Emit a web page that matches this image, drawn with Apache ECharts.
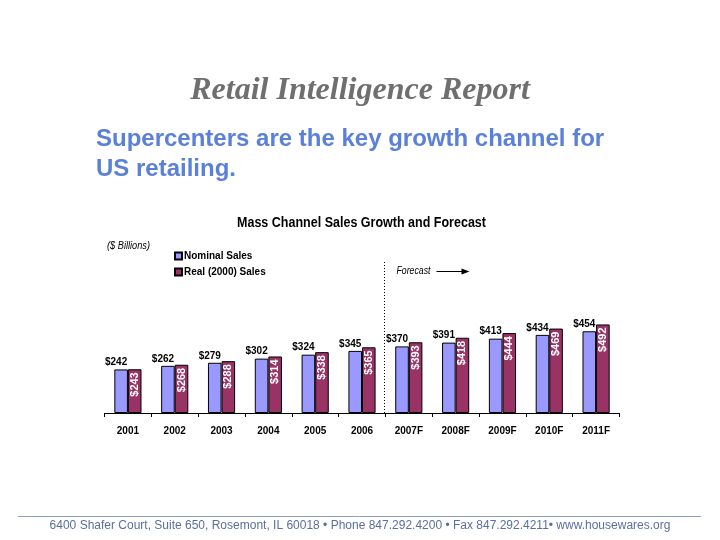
<!DOCTYPE html>
<html>
<head>
<meta charset="utf-8">
<script src="https://cdn.jsdelivr.net/npm/echarts@6/dist/echarts.min.js"></script>
<style>
html,body{margin:0;padding:0;background:#fff;}
#main{width:720px;height:540px;}
</style>
</head>
<body>
<div id="main"></div>
<script>
var categories = ['2001','2002','2003','2004','2005','2006','2007F','2008F','2009F','2010F','2011F'];
var nominalSales = [242,262,279,302,324,345,370,391,413,434,454];
var realSales = [243,268,288,314,338,365,393,418,444,469,492];
var forecastStartIndex = 6;

var SANS = '"Liberation Sans", Arial, sans-serif';

function measure(text, font) {
  var c = document.createElement('canvas').getContext('2d');
  c.font = font;
  return c.measureText(text).width;
}
// narrow text: horizontally squeezed text element
function narrowText(text, x, y, size, weight, style, targetW, align) {
  var w = measure(text, style + ' ' + weight + ' ' + size + 'px ' + SANS);
  var sx = targetW / w;
  return {type: 'text', x: x, y: y, scaleX: sx, scaleY: 1,
    style: {text: text, fontFamily: SANS, fontWeight: weight, fontStyle: style, fontSize: size, fill: '#000',
      align: align || 'left', verticalAlign: 'middle'}};
}

var chart = echarts.init(document.getElementById('main'), null, {renderer: 'canvas'});
var option = {
  animation: false,
  backgroundColor: '#ffffff',
  legend: {
    orient: 'vertical',
    left: 169,
    top: 246,
    itemWidth: 7,
    itemHeight: 7,
    itemGap: 6,
    icon: 'rect',
    textStyle: {fontFamily: SANS, fontWeight: 'bold', fontSize: 10, color: '#000', padding: [0,0,0,-3]},
    data: ['Nominal Sales', 'Real (2000) Sales']
  },
  grid: {left: 104.5, right: 100.5, top: 233, bottom: 127},
  xAxis: {
    type: 'category',
    data: categories,
    axisLine: {lineStyle: {color: '#000', width: 1}},
    axisTick: {show: true, length: 4, lineStyle: {color: '#000'}},
    axisLabel: {fontFamily: SANS, fontWeight: 'bold', fontSize: 10, color: '#000', margin: 13}
  },
  yAxis: {type: 'value', min: 0, max: 1000, show: false, splitLine: {show: false}},
  series: [
    {
      name: 'Nominal Sales',
      type: 'bar',
      data: nominalSales,
      barGap: '0%',
      barCategoryGap: '42%',
      itemStyle: {color: '#9999ff', borderColor: '#000', borderWidth: 1},
      label: {
        show: true, position: 'top', distance: 2, offset: [-5, 0],
        formatter: function(p){return '$' + p.value;},
        fontFamily: SANS, fontWeight: 'bold', fontSize: 10, color: '#000'
      }
    },
    {
      name: 'Real (2000) Sales',
      type: 'bar',
      data: realSales,
      itemStyle: {color: '#993366', borderColor: '#000', borderWidth: 1},
      label: {
        show: true, position: 'insideTop', rotate: 90, align: 'right', verticalAlign: 'middle', distance: 3,
        formatter: function(p){return '$' + p.value;},
        fontFamily: SANS, fontWeight: 'bold', fontSize: 11, color: '#fff'
      }
    }
  ]
};
chart.setOption(option);

var xa = chart.convertToPixel({xAxisIndex: 0}, categories[forecastStartIndex - 1]);
var xb = chart.convertToPixel({xAxisIndex: 0}, categories[forecastStartIndex]);
var xDiv = Math.round((xa + xb) / 2) - 0.5;
var yBase = chart.convertToPixel({yAxisIndex: 0}, 0);

chart.setOption({
  graphic: [
    {type: 'text', left: 'center', top: 75,
     style: {text: 'Retail Intelligence Report', fontFamily: '"Liberation Serif", "DejaVu Serif", serif', fontStyle: 'italic', fontWeight: 'bold', fontSize: 32, fill: '#6f6f6f'}},
    {type: 'text', left: 96, top: 125,
     style: {text: 'Supercenters are the key growth channel for\nUS retailing.', fontFamily: SANS, fontWeight: 'bold', fontSize: 24, lineHeight: 29.5, fill: '#5b80d8'}},
    narrowText('Mass Channel Sales Growth and Forecast', 237, 223, 15, 'bold', 'normal', 249),
    narrowText('($ Billions)', 107, 246, 11, 'normal', 'italic', 43),
    {type: 'line', shape: {x1: xDiv, y1: 262, x2: xDiv, y2: yBase},
     style: {stroke: '#000', lineWidth: 1, lineDash: [1, 2]}},
    narrowText('Forecast', xDiv + 12, 271, 11, 'normal', 'italic', 34),
    {type: 'line', shape: {x1: xDiv + 52, y1: 271.5, x2: xDiv + 79, y2: 271.5},
     style: {stroke: '#000', lineWidth: 1}},
    {type: 'polygon', shape: {points: [[xDiv + 85, 271.5], [xDiv + 77, 268.5], [xDiv + 77, 274.5]]},
     style: {fill: '#000'}},
    {type: 'line', shape: {x1: 18, y1: 516.5, x2: 701, y2: 516.5},
     style: {stroke: '#8ba2c0', lineWidth: 1}},
    {type: 'text', left: 'center', top: 520,
     style: {text: '6400 Shafer Court, Suite 650, Rosemont, IL 60018 \u2022 Phone 847.292.4200 \u2022 Fax 847.292.4211\u2022 www.housewares.org', fontFamily: SANS, fontSize: 12, fill: '#5a6f9c'}}
  ]
});
</script>
</body>
</html>
